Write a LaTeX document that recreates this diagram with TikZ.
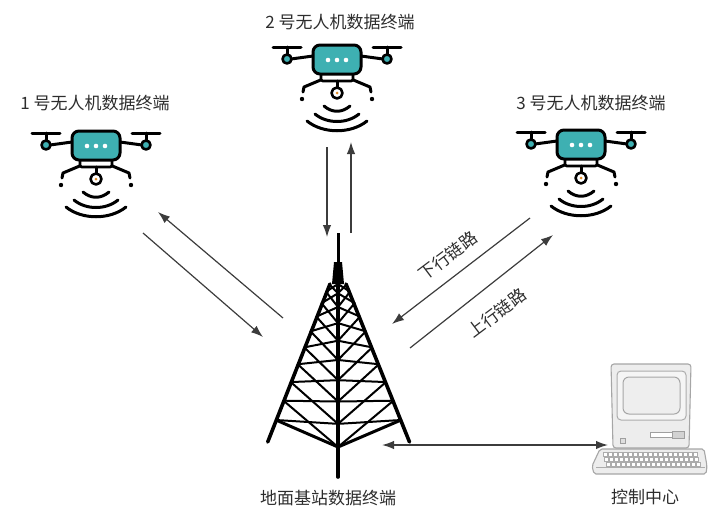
\documentclass[tikz,border=0pt]{standalone}
\usepackage{fontspec}
\newfontfamily\cjk{Noto Sans CJK SC}
\usetikzlibrary{arrows.meta}
\definecolor{droneteal}{RGB}{62,176,178}
\definecolor{textgray}{RGB}{45,45,45}
\definecolor{linkgray}{RGB}{60,60,60}
\definecolor{camorange}{RGB}{225,140,40}
\tikzset{
  ink/.style={draw=black, line width=3pt, line cap=round, line join=round},
  lbl/.style={font=\cjk\fontsize{17}{20}\selectfont, text=textgray, inner sep=0pt},
  linkarrow/.style={draw=linkgray, line width=1.2pt, -{Latex[length=12pt,width=8.5pt]}},
  duplex/.style={draw=linkgray, line width=1.4pt, {Latex[length=12pt,width=8.5pt]}-{Latex[length=12pt,width=8.5pt]}},
  towerleg/.style={draw=black, line width=3.6pt, line cap=round},
  brace/.style={draw=black, line width=2pt, line cap=round},
  case/.style={draw=gray!70, line width=1.1pt, fill=gray!14},
  drone/.pic={
    \begin{scope}[ink]
      % rotor bars with their stubs
      \draw (-64,-13) -- (-36,-13) (36,-13) -- (64,-13);
      \draw (-50,-13) -- (-50,-6) (50,-13) -- (50,-6);
      % arms from the rotor hubs to the body
      \draw (-46,-1) -- (-24,-4) (46,-1) -- (24,-4);
      \draw[fill=droneteal, line width=2.6pt] (-50,-1) circle (4.5) (50,-1) circle (4.5);
      % landing legs
      \draw (-14,19) -- (-33,27) -- (-34,32) (14,19) -- (33,27) -- (34,32);
      \fill (-35,39) circle (2.2) (35,39) circle (2.2);
      % lower plate and body
      \draw[fill=white, rounded corners=1.5pt, line width=2.6pt] (-16,13) rectangle (16,21);
      \draw[fill=droneteal, rounded corners=7pt] (-24,-15) rectangle (24,14);
      \fill[white] (-9,0) circle (2.3) (0,0) circle (2.3) (9,0) circle (2.3);
      % camera
      \draw (0,21) -- (0,27);
      \draw[fill=white, line width=2.6pt] (0,33) circle (5.5);
      \fill[camorange] (0,33) circle (1.5);
      % signal waves
      \draw (-13,46) .. controls (-5,53) and (5,53) .. (13,46);
      \draw (-22,54) .. controls (-10,64) and (10,64) .. (22,54);
      \draw (-30,61) .. controls (-14,74) and (14,74) .. (30,61);
    \end{scope}
  }
}
\begin{document}
\begin{tikzpicture}[x=1pt,y=-1pt]
\useasboundingbox (0,0) rectangle (708,512);

% ---- drones and their labels
\pic at (96,146) {drone};
\pic at (337,60) {drone};
\pic at (581,145) {drone};
\node[lbl] (d1) at (95,103) {1 号无人机数据终端};
\node[lbl] (d2) at (340,22) {2 号无人机数据终端};
\node[lbl] (d3) at (591,103) {3 号无人机数据终端};

% ---- lattice tower
\fill (334,262) -- (342,262) -- (344,284) -- (332,284) -- cycle;
\draw[line width=3pt] (338,233) -- (338,262);
\draw[towerleg] (330,284) -- (267.7,442);
\draw[towerleg] (346,284) -- (409.5,442);
\draw[towerleg] (338,284) -- (338,477);
\foreach \a/\b in {0/0.057,0.057/0.141,0.141/0.24,0.24/0.348,0.348/0.466,0.466/0.59,0.59/0.721,0.721/0.858,0.858/1} {
  \draw[brace] ({329-53*\a},{284+136*\a}) -- (338,{284+163*\b});
  \draw[brace] (338,{284+163*\a}) -- ({329-53*\b},{284+136*\b});
  \draw[brace] ({347+54*\a},{284+136*\a}) -- (338,{284+163*\b});
  \draw[brace] (338,{284+163*\a}) -- ({347+54*\b},{284+136*\b});
}
\draw[line width=3pt, line join=round] (276,420) -- (338,447) -- (401,420);
\node[lbl] (tower) at (328,498) {地面基站数据终端};

% ---- control centre computer
\draw[case, rounded corners=3pt] (613,448) -- (611,364) -- (691,364) -- (689,448) -- cycle;
\draw[draw=gray!65, line width=1pt, fill=gray!8, rounded corners=4pt] (617,371) rectangle (686,420);
\draw[draw=gray!70, line width=1pt, fill=gray!13, rounded corners=6pt] (623,377) rectangle (680,414);
\draw[draw=gray!75, line width=0.9pt, fill=white] (650,432) rectangle (684,437);
\draw[draw=gray!75, line width=0.9pt, fill=gray!35] (672,431) rectangle (684,438);
\draw[draw=gray!75, line width=0.8pt, fill=gray!25] (620,438) rectangle (625,443);
\draw[case, rounded corners=2pt] (600,449) -- (704,449) -- (707,466) -- (706,474) -- (594,474) -- (592,466) -- cycle;
\foreach \r/\y in {0/452,1/457,2/462} {
  \foreach \k in {0,...,18} {
    \draw[draw=gray!65, line width=0.6pt, fill=white] ({603+\r*1.5+\k*5},\y) rectangle ({607+\r*1.5+\k*5},{\y+4});
  }
}
\draw[draw=gray!65, line width=0.7pt] (596,467) -- (705,467);
\node[lbl] (ctrl) at (645,497) {控制中心};

% ---- radio links
\coordinate (a1s) at (283,318); \coordinate (a1e) at (158,212);
\coordinate (a2s) at (143,233); \coordinate (a2e) at (263,337);
\draw[linkarrow] (a1s) -- (a1e);
\draw[linkarrow] (a2s) -- (a2e);

\coordinate (b1s) at (327,147); \coordinate (b1e) at (327,237);
\coordinate (b2s) at (351,233); \coordinate (b2e) at (351,142);
\draw[linkarrow] (b1s) -- (b1e);
\draw[linkarrow] (b2s) -- (b2e);

\coordinate (c1s) at (530,218); \coordinate (c1e) at (392,324);
\coordinate (c2s) at (410,348); \coordinate (c2e) at (553,235);
\draw[linkarrow] (c1s) -- (c1e);
\draw[linkarrow] (c2s) -- (c2e);
\node[lbl, rotate=37] (down) at (448,256) {下行链路};
\node[lbl, rotate=37] (up) at (497,313) {上行链路};

% ---- wired link to the control centre
\coordinate (w1) at (382,445); \coordinate (w2) at (608,445);
\draw[duplex] (w1) -- (w2);
\end{tikzpicture}
\end{document}
